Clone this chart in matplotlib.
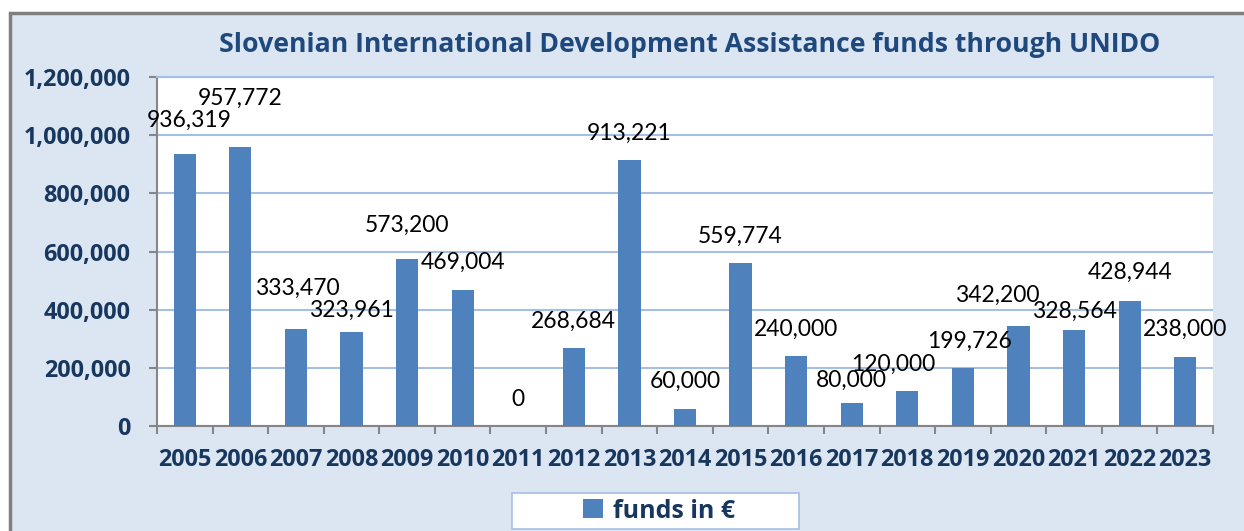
import matplotlib
matplotlib.use("Agg")
import matplotlib.pyplot as plt
from matplotlib.patches import Rectangle, Patch
from matplotlib.ticker import FuncFormatter, FixedLocator

# ---- data ----
years = ["2005", "2006", "2007", "2008", "2009", "2010", "2011", "2012", "2013", "2014",
         "2015", "2016", "2017", "2018", "2019", "2020", "2021", "2022", "2023"]
funds = [936319, 957772, 333470, 323961, 573200, 469004, 0, 268684, 913221, 60000,
         559774, 240000, 80000, 120000, 199726, 342200, 328564, 428944, 238000]
title = "Slovenian International Development Assistance funds through UNIDO"
series_name = "funds in \u20ac"
yticks = [0, 200000, 400000, 600000, 800000, 1000000, 1200000]

# label offsets in pixels (dx, extra dy upward) relative to default position
label_offsets = [(4, 6), (0, 22), (1, 14), (0, -6), (0, 7), (0, 0), (0, 0), (0, 0), (0, 0), (0, 0),
                 (0, 0), (0, 0), (0, -5), (-14, 0), (7, 0), (-21, 4), (0, -8), (0, 2), (0, 0)]

REG = ["Lato", "DejaVu Sans"]
BOLD = ["Open Sans", "DejaVu Sans"]
plt.rcParams["font.family"] = REG

BG = "#dce6f2"
BAR = "#4f81bd"
GRID = "#a5c0e2"
NAVY = "#17375e"
TITLE = "#1f497d"
AXGREY = "#868686"

W, H = 1244, 531
fig = plt.figure(figsize=(W / 100, H / 100), dpi=100)
fig.patch.set_facecolor("white")

# outer chart area with border (top/left visible)
fig.patches.append(Rectangle((10 / W, -0.2), 1.2, 1.2 - 13 / H,
                             transform=fig.transFigure, facecolor=BG,
                             edgecolor="#7f7f7f", linewidth=2.5, zorder=-10))

ax = fig.add_axes([157 / W, 1 - 426 / H, (1213 - 157) / W, (426 - 77) / H])
ax.set_facecolor("white")

x = list(range(len(years)))
ax.bar(x, funds, width=0.4, color=BAR, zorder=3)

ax.set_xlim(-0.5, len(years) - 0.5)
ax.set_ylim(0, 1200000)
ax.set_yticks(yticks)
ax.yaxis.set_major_formatter(FuncFormatter(lambda v, p: f"{int(v):,}"))
ax.grid(axis="y", color=GRID, linewidth=1.5, zorder=0)
ax.set_axisbelow(True)

ax.set_xticks(x)
ax.set_xticklabels(years)
ax.xaxis.set_minor_locator(FixedLocator([i - 0.5 for i in range(len(years) + 1)]))
ax.tick_params(axis="x", which="major", length=0, pad=16)
ax.tick_params(axis="x", which="minor", length=6, width=1.5, color=AXGREY, direction="out")
ax.tick_params(axis="y", length=6, width=1.5, color=AXGREY, pad=13)
for lab in ax.get_xticklabels() + ax.get_yticklabels():
    lab.set_family(BOLD)
    lab.set_fontweight("bold")
    lab.set_fontsize(16.8)
    lab.set_color(NAVY)

for s in ["left", "bottom"]:
    ax.spines[s].set_color(AXGREY)
    ax.spines[s].set_linewidth(1.5)
ax.spines["right"].set_visible(False)
ax.spines["top"].set_color(GRID)
ax.spines["top"].set_linewidth(1.5)

for i, (v, (dx, dy)) in enumerate(zip(funds, label_offsets)):
    ax.annotate(f"{v:,}", xy=(i, v), xytext=(dx, 27 + dy), textcoords="offset pixels",
                ha="center", va="center", fontsize=16.5, color="black", zorder=5,
                annotation_clip=False)

fig.text(690 / W, 1 - 45 / H, title, ha="center", va="center", fontsize=19.2,
         fontweight="bold", color=TITLE, family=BOLD)

# legend box
fig.patches.append(Rectangle((512 / W, 1 - 529 / H), 287 / W, 36 / H,
                             transform=fig.transFigure, facecolor="white",
                             edgecolor=GRID, linewidth=1.2, zorder=1))
leg = fig.legend(handles=[Patch(facecolor=BAR, label=series_name)], loc="center",
                 bbox_to_anchor=(659 / W, 1 - 511 / H), frameon=False,
                 handlelength=0.8, handleheight=0.8, handletextpad=0.4,
                 prop={"size": 18, "weight": "bold", "family": BOLD})
for t in leg.get_texts():
    t.set_color(NAVY)

fig.savefig("out.png", dpi=100, facecolor=fig.get_facecolor())
